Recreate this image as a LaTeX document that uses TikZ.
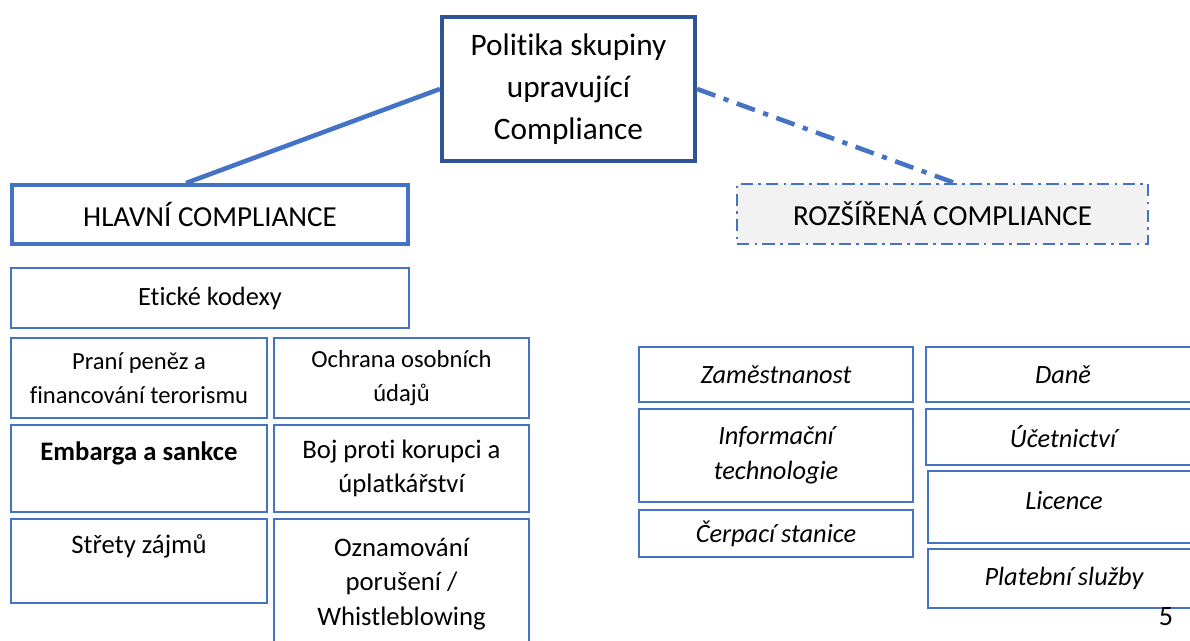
\documentclass[tikz,border=0pt]{standalone}
\usepackage{fontspec}
\setmainfont[Ligatures=NoCommon]{Carlito}
\usetikzlibrary{calc}
\definecolor{accent}{HTML}{4472C4}
\definecolor{accentdark}{HTML}{2F5597}
\definecolor{greyfill}{HTML}{F2F2F2}
\begin{document}
\begin{tikzpicture}[x=0.02cm, y=-0.02cm,
  cell/.style 2 args={draw=accent, line width=1.1pt, minimum width=#1*0.02cm, minimum height=#2*0.02cm, inner sep=0pt, align=center, font=\fontsize{14}{19}\selectfont},
  head/.style={line width=2.2pt, font=\fontsize{16.5}{20}\selectfont},
  large/.style={font=\fontsize{15.2}{19.5}\selectfont},
  extra/.style={font=\fontsize{15}{20}\selectfont\itshape},
  link/.style={accent, line width=2.6pt}]
\useasboundingbox (0,0) rectangle (1190,641);

\node[cell={253}{144}, draw=accentdark, line width=2.4pt, font=\fontsize{17.8}{24}\selectfont] (politika) at (568.5,89) {Politika skupiny\\upravující\\Compliance};
\node[cell={396}{59}, head] (hlavni) at (210,214.5) {HLAVNÍ COMPLIANCE};
\node[cell={411}{60}, head, line width=1.1pt, fill=greyfill, dash pattern=on 7pt off 3pt on 1.5pt off 3pt] (rozsirena) at (942.5,214) {ROZŠÍŘENÁ COMPLIANCE};

\draw[link] (politika.west) -- ($(hlavni.north west)!0.44!(hlavni.north east)$);
\draw[link, dash pattern=on 11pt off 5pt on 3pt off 5pt] (politika.east) -- ($(rozsirena.north west)!0.53!(rozsirena.north east)$);

\node[cell={398}{60}, font=\fontsize{15}{19}\selectfont] (eticke) at (210,298) {Etické kodexy};
\node[cell={256}{80}] (prani) at (139,378) {Praní peněz a\\financování terorismu};
\node[cell={255}{80}] (ochrana) at (401.5,378) {Ochrana osobních\\údajů};
\node[cell={256}{87}, large] (embarga) at (139,468.5) {\textbf{Embarga a sankce}\\~};
\node[cell={255}{87}, large] (boj) at (401.5,468.5) {Boj proti korupci a\\úplatkářství};
\node[cell={256}{84}, large] (strety) at (139,561) {Střety zájmů\\~};
\node[cell={255}{130}, large] (oznamovani) at (401.5,584) {Oznamování\\porušení /\\Whistleblowing};

\node[cell={274}{55}, extra] (zamestnanost) at (776,374.5) {Zaměstnanost};
\node[cell={274}{93}, extra] (it) at (776,455.5) {Informační\\technologie};
\node[cell={274}{47}, extra] (cerpaci) at (776,533.5) {Čerpací stanice};
\node[cell={274}{55}, extra] (dane) at (1063,374.5) {Daně};
\node[cell={274}{56}, extra] (ucetnictvi) at (1063,437) {Účetnictví};
\node[cell={272}{72}, extra] (licence) at (1064,507) {Licence\\[-12pt]~};
\node[cell={272}{59}, extra] (platebni) at (1064,578.5) {Platební služby};

\node[font=\fontsize{16}{19}\selectfont] (strana) at (1166,617) {5};
\end{tikzpicture}
\end{document}
